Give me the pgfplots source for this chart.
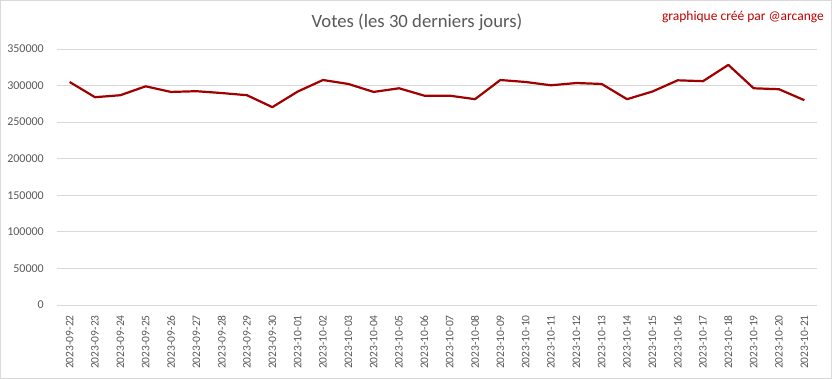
\documentclass[border=0pt]{standalone}
\usepackage{pgfplots}
\pgfplotsset{compat=1.18}
\usepackage{fontspec}
\setmainfont{Carlito}
\definecolor{txtgray}{HTML}{595959}
\definecolor{gridgray}{HTML}{D9D9D9}
\definecolor{linered}{HTML}{A00000}
\definecolor{notered}{HTML}{C00000}
\begin{document}
\begin{tikzpicture}
\useasboundingbox (-57bp,-74bp) rectangle (775bp,305bp);
\draw[gridgray, line width=0.8bp] (-56.5bp,-73.5bp) rectangle (774.5bp,304.5bp);
\begin{axis}[
  at={(0,0)}, anchor=south west,
  scale only axis, width=760bp, height=256bp,
  xmin=-0.5, xmax=29.5, ymin=0, ymax=350000,
  scaled y ticks=false,
  xtick={0,...,29},
  xticklabels={2023-09-22,2023-09-23,2023-09-24,2023-09-25,2023-09-26,2023-09-27,2023-09-28,2023-09-29,2023-09-30,2023-10-01,2023-10-02,2023-10-03,2023-10-04,2023-10-05,2023-10-06,2023-10-07,2023-10-08,2023-10-09,2023-10-10,2023-10-11,2023-10-12,2023-10-13,2023-10-14,2023-10-15,2023-10-16,2023-10-17,2023-10-18,2023-10-19,2023-10-20,2023-10-21},
  ytick={0,50000,100000,150000,200000,250000,300000,350000},
  yticklabels={0,50000,100000,150000,200000,250000,300000,350000},
  axis x line*=bottom, axis y line*=left,
  x axis line style={draw=gridgray, line width=0.8bp, -},
  y axis line style={draw=none},
  tick style={draw=none},
  ymajorgrids, grid style={gridgray, line width=0.8bp},
  xticklabel style={font=\fontsize{11.5bp}{12bp}\selectfont, text=txtgray, yshift=-10bp, rotate=90, anchor=east, inner sep=0pt},
  yticklabel style={font=\fontsize{12bp}{13bp}\selectfont, text=txtgray, anchor=east, inner sep=0pt, xshift=-13bp},
]
\addplot[linered, line width=2.2bp, line join=round, mark=none] coordinates {
(0,304900) (1,284100) (2,286800) (3,299000) (4,291300) (5,292300) (6,289800) (7,286800) (8,270500) (9,291800)
(10,307600) (11,302200) (12,291300) (13,296300) (14,286200) (15,286200) (16,281400) (17,307600) (18,304900) (19,300400)
(20,303500) (21,302200) (22,281400) (23,291800) (24,307200) (25,306000) (26,328300) (27,296300) (28,295000) (29,280000)
};
\end{axis}
\node[text=txtgray, font=\fontsize{18.7bp}{20bp}\selectfont] at (360bp,283bp) {Votes (les 30 derniers jours)};
\node[text=notered, font=\fontsize{13.5bp}{14bp}\selectfont, anchor=east, inner sep=0pt] at (767bp,288bp) {graphique créé par @arcange};
\end{tikzpicture}
\end{document}
